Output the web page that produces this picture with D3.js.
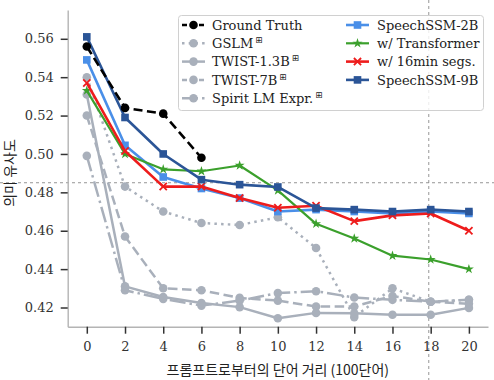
<!DOCTYPE html>
<html><head><meta charset="utf-8">
<script src="https://cdn.jsdelivr.net/npm/d3@7"></script>
<style>html,body{margin:0;padding:0;background:#fff;}svg{display:block;}</style>
</head><body>
<svg id="c" width="494" height="380"></svg>
<script>
const xTicks = [0,2,4,6,8,10,12,14,16,18,20];
const yTicks = [0.42,0.44,0.46,0.48,0.50,0.52,0.54,0.56];
const xsGT = [0,2,4,6];
const groundTruth = [0.556,0.524,0.521,0.498];
const gslm      = [0.540,0.483,0.470,0.464,0.463,0.467,0.451,0.415,0.430,0.423,0.424];
const twist13b  = [0.531,0.431,0.4255,0.4223,0.4202,0.4144,0.4172,0.417,0.4162,0.4162,0.4198];
const twist7b   = [0.520,0.457,0.430,0.429,0.425,0.4236,0.4205,0.4205,0.426,0.423,0.422];
const spiritLM  = [0.499,0.429,0.4245,0.421,0.4236,0.4275,0.4285,0.4252,0.424,0.423,0.424];
const ssm2b     = [0.549,0.5045,0.488,0.482,0.477,0.470,0.471,0.470,0.469,0.470,0.469];
const wTransf   = [0.533,0.500,0.492,0.491,0.494,0.481,0.4636,0.456,0.447,0.445,0.440];
const w16min    = [0.537,0.5015,0.483,0.483,0.477,0.472,0.473,0.465,0.468,0.469,0.460];
const ssm9b     = [0.561,0.519,0.500,0.4866,0.484,0.4828,0.4718,0.471,0.470,0.471,0.470];
const hLineValue = 0.485;
const vLineValue = 17.9;

const svg = d3.select('#c');
const x = d3.scaleLinear().domain([-1,21]).range([67.7,488]);
const y = d3.scaleLinear().domain([0.41,0.575]).range([326.7,10]);
const GRAY = '#a9b0bb';

// crosshair guides
svg.append('line').attr('x1',0).attr('x2',494).attr('y1',y(hLineValue)).attr('y2',y(hLineValue))
  .attr('stroke','#8a8a8a').attr('stroke-width',0.9).attr('stroke-dasharray','3,3');
svg.append('line').attr('x1',x(vLineValue)).attr('x2',x(vLineValue)).attr('y1',0).attr('y2',380)
  .attr('stroke','#8a8a8a').attr('stroke-width',0.9).attr('stroke-dasharray','3,3');

// axes
const ax = svg.append('g').attr('transform',`translate(0,${y.range()[0]})`)
  .call(d3.axisBottom(x).tickValues(xTicks).tickSize(7).tickPadding(8).tickSizeOuter(0));
const ay = svg.append('g').attr('transform',`translate(${x.range()[0]},0)`)
  .call(d3.axisLeft(y).tickValues(yTicks).tickFormat(d3.format('.2f')).tickSize(7).tickPadding(7).tickSizeOuter(0));
[ax,ay].forEach(g=>{
  g.select('.domain').attr('stroke','#b4b4b4').attr('stroke-width',1.4);
  g.selectAll('.tick line').attr('stroke','#333').attr('stroke-width',1.5);
  g.selectAll('.tick text').attr('fill','#333').style('font-family','"DejaVu Serif"').style('font-size','13px');
});

svg.append('text').attr('x',(x.range()[0]+x.range()[1])/2).attr('y',375)
  .attr('text-anchor','middle').style('font-family','"Noto Sans CJK KR"').style('font-size','14px').attr('fill','#222')
  .text('프롬프트로부터의 단어 거리 (100단어)');
svg.append('text').attr('transform','translate(15,173) rotate(-90)')
  .attr('text-anchor','middle').style('font-family','"Noto Sans CJK KR"').style('font-size','14px').attr('fill','#222')
  .text('의미 유사도');

const line = d3.line();
function marker(g, type, cx, cy, color, s){
  if(type==='circle') g.append('circle').attr('cx',cx).attr('cy',cy).attr('r',s).attr('fill',color);
  else if(type==='square') g.append('rect').attr('x',cx-s).attr('y',cy-s).attr('width',2*s).attr('height',2*s).attr('fill',color);
  else if(type==='star') g.append('path').attr('d',d3.symbol(d3.symbolStar,s*s*3)()).attr('transform',`translate(${cx},${cy})`).attr('fill',color);
  else if(type==='x') g.append('path').attr('d',`M${cx-s},${cy-s}L${cx+s},${cy+s}M${cx-s},${cy+s}L${cx+s},${cy-s}`).attr('stroke',color).attr('stroke-width',1.8);
}
const series = [
  {name:'GSLM', sup:true, xs:xTicks, v:gslm, color:GRAY, dash:'2.5,4.2', w:2.5, m:'circle', ms:4.3},
  {name:'TWIST-1.3B', sup:true, xs:xTicks, v:twist13b, color:GRAY, dash:null, w:2.5, m:'circle', ms:4.3},
  {name:'TWIST-7B', sup:true, xs:xTicks, v:twist7b, color:GRAY, dash:'9.5,4.5', w:2.5, m:'circle', ms:4.3},
  {name:'Spirit LM Expr.', sup:true, xs:xTicks, v:spiritLM, color:GRAY, dash:'16,4,2.5,4', w:2.5, m:'circle', ms:4.3},
  {name:'SpeechSSM-2B', xs:xTicks, v:ssm2b, color:'#4a8fe8', dash:null, w:2.6, m:'square', ms:3.8},
  {name:'w/ Transformer', xs:xTicks, v:wTransf, color:'#3ba02c', dash:null, w:2.2, m:'star', ms:3.2},
  {name:'w/ 16min segs.', xs:xTicks, v:w16min, color:'#ee1c1c', dash:null, w:2.6, m:'x', ms:3.6},
  {name:'SpeechSSM-9B', xs:xTicks, v:ssm9b, color:'#2b5597', dash:null, w:2.6, m:'square', ms:3.8},
  {name:'Ground Truth', xs:xsGT, v:groundTruth, color:'#000', dash:'9,4.5', w:2.6, m:'circle', ms:4.3},
];
const plot = svg.append('g');
series.forEach(s=>{
  const pts = s.xs.map((d,i)=>[x(d),y(s.v[i])]);
  plot.append('path').attr('d',line(pts)).attr('fill','none').attr('stroke',s.color)
    .attr('stroke-width',s.w).attr('stroke-dasharray',s.dash).attr('stroke-linejoin','round');
  const mg = plot.append('g');
  pts.forEach(p=>marker(mg,s.m,p[0],p[1],s.color,s.ms));
});

// legend
const leg = svg.append('g');
leg.append('rect').attr('x',178.5).attr('y',15.5).attr('width',305).attr('height',95).attr('rx',3)
  .attr('fill','#fff').attr('fill-opacity',0.82).attr('stroke','#d0d0d0').attr('stroke-width',1);
const order = ['Ground Truth','GSLM','TWIST-1.3B','TWIST-7B','Spirit LM Expr.','SpeechSSM-2B','w/ Transformer','w/ 16min segs.','SpeechSSM-9B'];
order.forEach((n,i)=>{
  const s = series.find(d=>d.name===n);
  const col = i<5?0:1, row = i<5?i:i-5;
  const hx = col===0?182:346, tx = col===0?212:377;
  const cy = 25 + row*18.3;
  const g = leg.append('g');
  g.append('line').attr('x1',hx).attr('x2',hx+23).attr('y1',cy).attr('y2',cy).attr('stroke',s.color)
    .attr('stroke-width',s.w).attr('stroke-dasharray',s.dash ? (s.name==='Ground Truth'||s.name==='TWIST-7B' ? '5,3.5' : s.dash) : null);
  marker(g,s.m,hx+11.5,cy,s.color,s.ms);
  const t = g.append('text').attr('x',tx).attr('y',cy+4.6).style('font-family','"DejaVu Serif"').style('font-size','13px').attr('fill','#222');
  t.append('tspan').text(s.name);
  if(s.sup) t.append('tspan').attr('dx',2).attr('dy',-5).style('font-size','8.5px').style('font-family','"DejaVu Sans"').text('⊞');
});
</script>
</body></html>
